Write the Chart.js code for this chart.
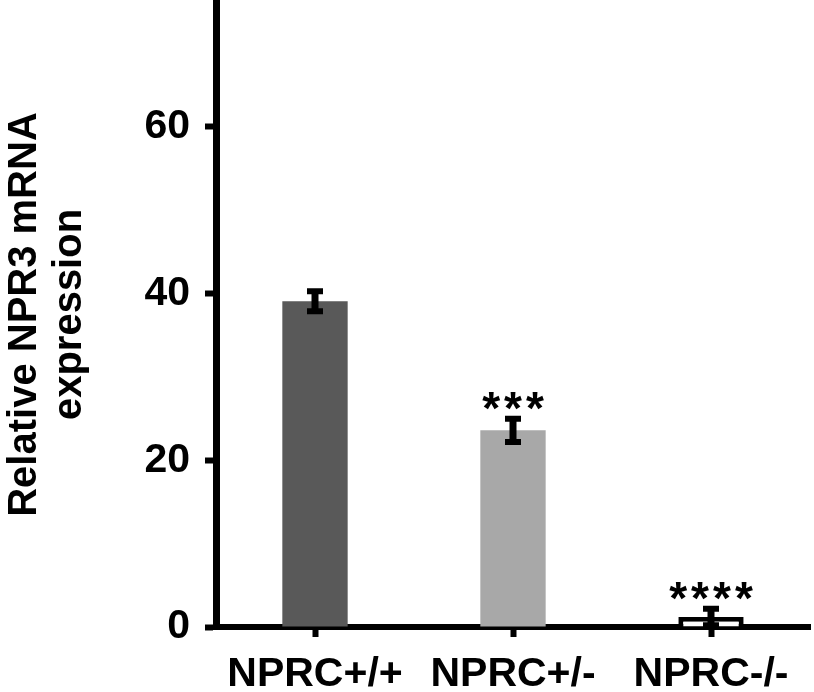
<!DOCTYPE html>
<html>
<head>
<meta charset="utf-8">
<script src="https://cdn.jsdelivr.net/npm/chart.js@4"></script>
<style>
html, body { margin: 0; padding: 0; background: #fff; }
</style>
</head>
<body>
<canvas id="myChart" width="814" height="692"></canvas>
<script>
var groups = ['NPRC+/+', 'NPRC+/-', 'NPRC-/-'];
var expression = [39.1, 23.6, 1.2];
var errors = [1.2, 1.4, 1.0];
var stars = ['', '***', '****'];
var yTicks = [0, 20, 40, 60];

var fontFamily = "'Liberation Sans', Arial, Helvetica, sans-serif";

// error bars + significance stars on top of the bars
var errorBars = {
    id: 'errorBars',
    afterDatasetsDraw: function(chart) {
        var ctx = chart.ctx;
        var yScale = chart.scales.y;
        var meta = chart.getDatasetMeta(0);
        ctx.save();
        ctx.strokeStyle = '#000';
        ctx.fillStyle = '#000';
        meta.data.forEach(function(bar, i) {
            var x = bar.x;
            var top = yScale.getPixelForValue(expression[i] + errors[i]);
            var bottom = yScale.getPixelForValue(expression[i] - errors[i]);
            ctx.lineWidth = 7;
            ctx.beginPath();
            ctx.moveTo(x, top);
            ctx.lineTo(x, bottom);
            ctx.stroke();
            ctx.lineWidth = 6;
            ctx.beginPath();
            ctx.moveTo(x - 8, top);
            ctx.lineTo(x + 8, top);
            ctx.moveTo(x - 8, bottom);
            ctx.lineTo(x + 8, bottom);
            ctx.stroke();
            if (stars[i]) {
                ctx.font = 'bold 46px ' + fontFamily;
                ctx.letterSpacing = '4px';
                ctx.textAlign = 'center';
                ctx.textBaseline = 'alphabetic';
                // letterSpacing adds a trailing gap, shift by half of it
                ctx.fillText(stars[i], x + 2, top - 21 + 26);
            }
        });
        ctx.restore();
    }
};

var ctx = document.getElementById('myChart').getContext('2d');
var myChart = new Chart(ctx, {
    type: 'bar',
    data: {
        labels: groups,
        datasets: [{
            data: expression,
            backgroundColor: ['#595959', '#a8a8a8', '#ffffff'],
            borderColor: '#000',
            borderWidth: [0, 0, 5],
            categoryPercentage: 1,
            barPercentage: 0.33
        }]
    },
    options: {
        responsive: false,
        animation: false,
        layout: { padding: { top: 2, right: 4, left: 0, bottom: 0 } },
        plugins: {
            legend: { display: false },
            tooltip: { enabled: false }
        },
        scales: {
            x: {
                z: 1,
                grid: {
                    display: true,
                    drawOnChartArea: false,
                    offset: false,
                    color: '#000',
                    tickLength: 10,
                    tickWidth: 6
                },
                border: { display: true, color: '#000', width: 6 },
                ticks: {
                    color: '#000',
                    padding: 13,
                    font: { family: fontFamily, size: 41, weight: 'bold' }
                },
                afterFit: function(scale) {
                    scale.height = 65;
                    scale.paddingLeft = 0;
                    scale.paddingRight = 0;
                }
            },
            y: {
                z: 1,
                min: 0,
                max: 75,
                afterBuildTicks: function(axis) {
                    axis.ticks = yTicks.map(function(v) { return { value: v }; });
                },
                grid: {
                    display: true,
                    drawOnChartArea: false,
                    color: '#000',
                    tickLength: 11,
                    tickWidth: 6
                },
                border: { display: true, color: '#000', width: 7 },
                ticks: {
                    color: '#000',
                    padding: 15,
                    font: { family: fontFamily, size: 41, weight: 'bold' }
                },
                title: {
                    display: true,
                    text: ['Relative NPR3 mRNA', 'expression'],
                    color: '#000',
                    padding: { top: 2, bottom: 0 },
                    font: { family: fontFamily, size: 40, weight: 'bold', lineHeight: 1.125 }
                },
                afterFit: function(scale) {
                    scale.width = 216;
                    scale.paddingTop = 0;
                    scale.paddingBottom = 0;
                }
            }
        }
    },
    plugins: [errorBars]
});
</script>
</body>
</html>
